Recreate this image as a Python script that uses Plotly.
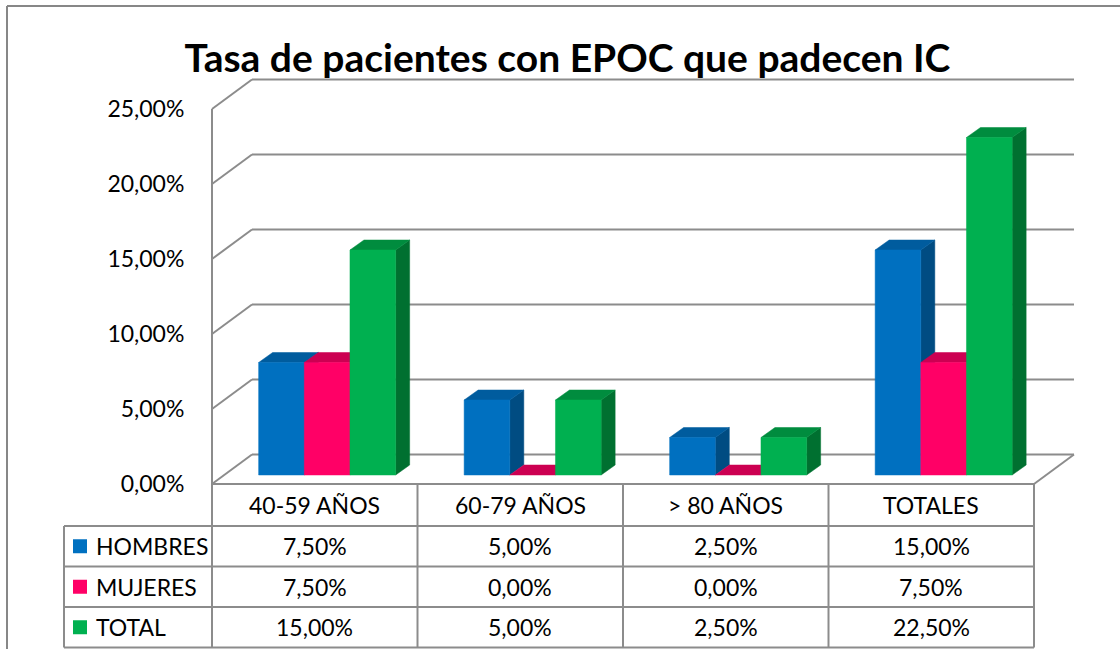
import plotly.graph_objects as go

# ---------------- data ----------------
categories = ["40-59 AÑOS", "60-79 AÑOS", "> 80 AÑOS", "TOTALES"]
series_names = ["HOMBRES", "MUJERES", "TOTAL"]
hombres = [7.5, 5.0, 2.5, 15.0]
mujeres = [7.5, 0.0, 0.0, 7.5]
total = [15.0, 5.0, 2.5, 22.5]
tick_values = [0, 5, 10, 15, 20, 25]
title_text = "Tasa de pacientes con EPOC que padecen IC"

# ---------------- styling ----------------
W, H = 1120, 649
PX_X0, PX_PER_X = 212.0, 205.5      # pixel of x=0, pixels per category
PX_Y0, PX_PER_Y = 484.0, 15.0       # pixel of y=0, pixels per percent
front_colors = ["#0070C0", "#FF0066", "#00B050"]
top_colors = ["#005C9E", "#CC0052", "#008C3E"]
side_colors = ["#004C82", "#B00047", "#007030"]
GRID = "#8C8C8C"
FONT = "Lato"
TXT = 23


def dx(px):  # pixel distance -> x data units
    return px / PX_PER_X


def dy(px):  # pixel distance -> y data units
    return px / PX_PER_Y


def xp(px):  # pixel position -> x data
    return (px - PX_X0) / PX_PER_X


def yp(py):  # pixel position -> y data
    return (PX_Y0 - py) / PX_PER_Y


x_range = [xp(0), xp(W)]
y_range = [yp(H), yp(0)]

WALL_X, WALL_Y = dx(40), dy(29.5)      # depth of floor / side wall
MID_X, MID_Y = dx(12.4), dy(9)        # plane where bars stand
DEP_X, DEP_Y = dx(14), dy(10)         # depth of each bar
GAP = 1.5                              # Excel gap width 150%
BAR_W = 1.0 / (len(series_names) + GAP)

fig = go.Figure()

shapes = []
line_style = dict(color=GRID, width=2)

# walls: gridlines on side wall (diagonal) and back wall (horizontal)
n_cat = len(categories)
for v in tick_values:
    shapes.append(dict(type="line", xref="x", yref="y", x0=0, y0=v,
                       x1=WALL_X, y1=v + WALL_Y, line=line_style, layer="below"))
    shapes.append(dict(type="line", xref="x", yref="y", x0=WALL_X, y0=v + WALL_Y,
                       x1=n_cat + WALL_X, y1=v + WALL_Y, line=line_style, layer="below"))
# vertical axis line on front-left
shapes.append(dict(type="line", xref="x", yref="y", x0=0, y0=0, x1=0, y1=max(tick_values),
                   line=line_style, layer="below"))
# floor front edge and right diagonal
shapes.append(dict(type="line", xref="x", yref="y", x0=0, y0=0, x1=n_cat, y1=0,
                   line=line_style, layer="below"))
shapes.append(dict(type="line", xref="x", yref="y", x0=n_cat, y0=0, x1=n_cat + WALL_X, y1=WALL_Y,
                   line=line_style, layer="below"))

# ---------------- data table ----------------
row_tops = [yp(526), yp(566.5), yp(607), yp(647.5)]
left_col = xp(64)
for i in range(n_cat + 1):
    shapes.append(dict(type="line", xref="x", yref="y", x0=i, y0=0, x1=i, y1=row_tops[-1],
                       line=line_style, layer="above"))
shapes.append(dict(type="line", xref="x", yref="y", x0=left_col, y0=row_tops[0], x1=left_col,
                   y1=row_tops[-1], line=line_style, layer="above"))
for r in row_tops:
    shapes.append(dict(type="line", xref="x", yref="y", x0=left_col, y0=r, x1=n_cat, y1=r,
                       line=line_style, layer="above"))

# outer chart border (left and top)
shapes.append(dict(type="line", xref="paper", yref="paper", x0=7 / W, y0=1 - 6 / H, x1=7 / W, y1=0,
                   line=dict(color="#878787", width=2)))
shapes.append(dict(type="line", xref="paper", yref="paper", x0=7 / W, y0=1 - 6 / H, x1=1, y1=1 - 6 / H,
                   line=dict(color="#878787", width=2)))


def fmt(v):
    return f"{v:.2f}".replace(".", ",") + "%"


# ---------------- 3D bars ----------------
all_series = [hombres, mujeres, total]
base = MID_Y
for i in range(n_cat):
    for k, vals in enumerate(all_series):
        v = vals[i]
        x0 = i + GAP / 2 * BAR_W + k * BAR_W + MID_X
        x1 = x0 + BAR_W
        top = base + v
        # side face
        if v > 0:
            fig.add_trace(go.Scatter(
                x=[x1, x1 + DEP_X, x1 + DEP_X, x1, x1],
                y=[base, base + DEP_Y, top + DEP_Y, top, base],
                fill="toself", mode="lines", fillcolor=side_colors[k],
                line=dict(color=side_colors[k], width=0.5), hoverinfo="skip", showlegend=False))
        # top face
        fig.add_trace(go.Scatter(
            x=[x0, x0 + DEP_X, x1 + DEP_X, x1, x0],
            y=[top, top + DEP_Y, top + DEP_Y, top, top],
            fill="toself", mode="lines", fillcolor=top_colors[k],
            line=dict(color=top_colors[k], width=0.5), hoverinfo="skip", showlegend=False))
        # front face
        if v > 0:
            fig.add_trace(go.Scatter(
                x=[x0, x1, x1, x0, x0],
                y=[base, base, top, top, base],
                fill="toself", mode="lines", fillcolor=front_colors[k],
                line=dict(color=front_colors[k], width=0.5), hoverinfo="skip",
                name=series_names[k], showlegend=False))

# legend keys in table
row_centers = [(row_tops[j] + row_tops[j + 1]) / 2 for j in range(3)]
fig.add_trace(go.Scatter(
    x=[xp(80)] * 3, y=row_centers, mode="markers",
    marker=dict(symbol="square", size=14, color=front_colors, line=dict(width=0)),
    hoverinfo="skip", showlegend=False))

annotations = []
header_y = (0 + row_tops[0]) / 2
for i, c in enumerate(categories):
    annotations.append(dict(x=i + 0.5, y=header_y, xref="x", yref="y", text=c, showarrow=False,
                            font=dict(family=FONT, size=TXT, color="black"), xanchor="center",
                            yanchor="middle"))
for j, name in enumerate(series_names):
    annotations.append(dict(x=xp(94), y=row_centers[j], xref="x", yref="y", text=name, showarrow=False,
                            font=dict(family=FONT, size=TXT, color="black"), xanchor="left",
                            yanchor="middle"))
    for i in range(n_cat):
        annotations.append(dict(x=i + 0.5, y=row_centers[j], xref="x", yref="y",
                                text=fmt(all_series[j][i]), showarrow=False,
                                font=dict(family=FONT, size=TXT, color="black"),
                                xanchor="center", yanchor="middle"))

fig.update_layout(
    width=W, height=H,
    margin=dict(l=0, r=0, t=0, b=0),
    paper_bgcolor="white", plot_bgcolor="white",
    title=dict(text=title_text, x=567.5 / W, y=1 - 58 / H, xanchor="center", yanchor="middle",
               font=dict(family=FONT, size=39, color="black", weight="bold")),
    xaxis=dict(range=x_range, visible=False, fixedrange=True),
    yaxis=dict(range=y_range, anchor="free", position=PX_X0 / W, showgrid=False, zeroline=False,
               showline=False, ticks="outside", ticklen=1, tickcolor="rgba(0,0,0,0)",
               tickvals=tick_values, ticktext=[fmt(v) for v in tick_values],
               ticklabelstandoff=22, tickfont=dict(family=FONT, size=TXT, color="black"),
               fixedrange=True),
    shapes=shapes,
    annotations=annotations,
    showlegend=False,
)

fig.write_html("out.html", config={"displayModeBar": False},
               post_script="document.body.style.margin='0';document.body.style.overflow='hidden';")
